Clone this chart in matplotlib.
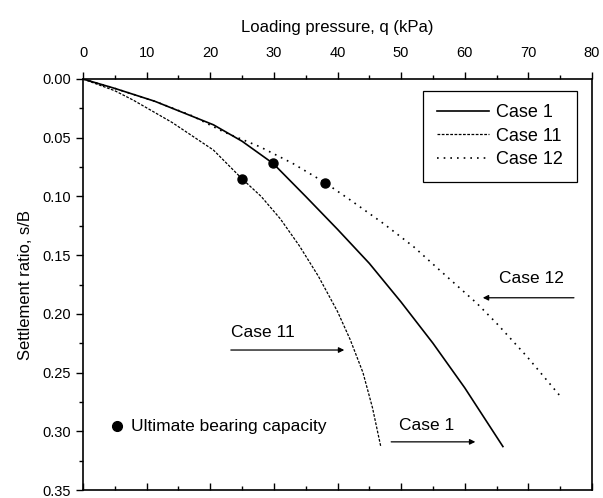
import matplotlib
matplotlib.use("Agg")
import matplotlib.pyplot as plt
from matplotlib.ticker import MultipleLocator

plt.rcParams['font.family'] = ['Liberation Sans', 'DejaVu Sans']

# load-settlement curves (q in kPa, s/B)
q_case1 = [0, 5, 11.3, 20.5, 25, 29.9, 35, 40, 45, 50, 55, 60, 66.0]
s_case1 = [0, 0.008, 0.019, 0.039, 0.053, 0.072, 0.100, 0.128, 0.157, 0.190, 0.225, 0.263, 0.313]

q_case11 = [0, 2, 5, 7.9, 14, 20.5, 25.0, 28, 31, 34, 37, 40, 42, 44, 45.5, 46.8]
s_case11 = [0, 0.004, 0.010, 0.018, 0.037, 0.0605, 0.085, 0.100, 0.119, 0.142, 0.168, 0.198, 0.222, 0.250, 0.280, 0.313]

q_case12 = [0, 5, 11.3, 17, 22.1, 27.8, 33, 38.05, 42.0, 47.2, 52, 56.1, 61.9, 65.0, 69.8, 75.3]
s_case12 = [0, 0.008, 0.019, 0.031, 0.045, 0.0577, 0.072, 0.0883, 0.103, 0.123, 0.143, 0.163, 0.191, 0.208, 0.2365, 0.272]

# ultimate bearing capacity points
ult_q = [25.0, 29.9, 38.05]
ult_s = [0.085, 0.0718, 0.0883]

fig = plt.figure(figsize=(6.03, 4.98), dpi=100)
ax = fig.add_axes([83 / 603, 1 - 490 / 498, 509 / 603, 411 / 498])

ax.plot(q_case1, s_case1, color='black', lw=1.2, label='Case 1')
ax.plot(q_case11, s_case11, color='black', lw=0.9, dashes=(2.2, 1.2), label='Case 11')
ax.plot(q_case12, s_case12, color='black', lw=1.2, dashes=(1, 3), label='Case 12')
ax.plot(ult_q, ult_s, 'o', color='black', ms=6.5)

ax.set_xlim(0, 80)
ax.set_ylim(0.35, 0)

ax.xaxis.set_label_position('top')
ax.set_xlabel('Loading pressure, q (kPa)', fontsize=12, labelpad=10)
ax.set_ylabel('Settlement ratio, s/B', fontsize=12, labelpad=7)

ax.xaxis.set_major_locator(MultipleLocator(10))
ax.xaxis.set_minor_locator(MultipleLocator(5))
ax.yaxis.set_major_locator(MultipleLocator(0.05))
ax.yaxis.set_minor_locator(MultipleLocator(0.025))
ax.yaxis.set_major_formatter(plt.FormatStrFormatter('%.2f'))

ax.tick_params(axis='x', which='both', top=True, bottom=False,
               labeltop=True, labelbottom=False, direction='out')
ax.tick_params(axis='y', which='both', left=True, right=False, direction='out')
ax.tick_params(which='major', length=5, width=1, labelsize=10.5)
ax.tick_params(which='minor', length=3, width=1)
ax.tick_params(axis='x', which='major', pad=9)

# inward ticks along the bottom edge
bot = ax.secondary_xaxis('bottom')
bot.xaxis.set_major_locator(MultipleLocator(10))
bot.xaxis.set_minor_locator(MultipleLocator(5))
bot.tick_params(which='both', direction='in', labelbottom=False)
bot.tick_params(which='major', length=5, width=1)
bot.tick_params(which='minor', length=3, width=1)

for sp in ax.spines.values():
    sp.set_linewidth(1.2)
bot.spines['bottom'].set_visible(False)

leg = ax.legend(loc='upper left', bbox_to_anchor=(0.668, 0.971), fontsize=13,
                handlelength=2.9, fancybox=False, edgecolor='black',
                framealpha=1, borderpad=0.75, labelspacing=0.35, handletextpad=0.4,
                borderaxespad=0)
leg.get_frame().set_linewidth(0.9)

arrow = dict(arrowstyle='-|>', color='black', lw=0.9, mutation_scale=8)
ax.annotate('', xy=(41.5, 0.2308), xytext=(22.8, 0.2308), arrowprops=arrow)
ax.text(28.3, 0.216, 'Case 11', fontsize=12.5, ha='center', va='center')
ax.annotate('', xy=(62.1, 0.309), xytext=(48.0, 0.309), arrowprops=arrow)
ax.text(54.0, 0.2947, 'Case 1', fontsize=12.5, ha='center', va='center')
ax.annotate('', xy=(62.4, 0.1863), xytext=(77.6, 0.1863), arrowprops=arrow)
ax.text(70.5, 0.170, 'Case 12', fontsize=12.5, ha='center', va='center')

ax.plot([5.4], [0.2956], 'o', color='black', ms=7)
ax.text(7.6, 0.2956, 'Ultimate bearing capacity', fontsize=12.5, ha='left', va='center')

fig.savefig('out.png', dpi=100)
